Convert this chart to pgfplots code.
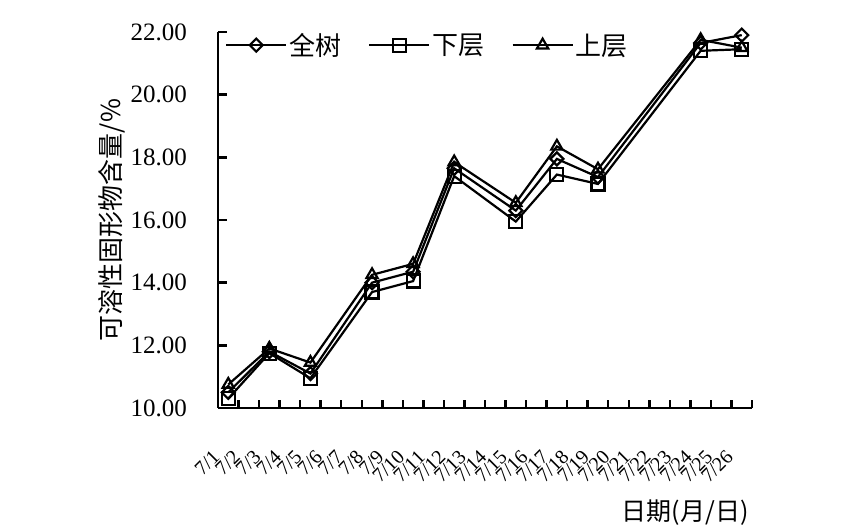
\documentclass[border=0pt]{standalone}
\usepackage{fontspec}
\setmainfont{Liberation Serif}
\newfontfamily\cjk{Noto Sans CJK SC}
\usepackage{pgfplots}
\pgfplotsset{compat=1.18}

\begin{document}
\begin{tikzpicture}
\useasboundingbox (0,0) rectangle (857bp,532bp);
\begin{axis}[
    at={(218bp,124bp)}, anchor=south west,
    scale only axis,
    width=534bp, height=376bp,
    xmin=0, xmax=26,
    ymin=10, ymax=22,
    clip=false,
    axis x line*=bottom, axis y line*=left,
    axis line style={line width=2.4bp,-},
    xtick={0.5,1.5,...,25.5},
    xticklabels={7/1,7/2,7/3,7/4,7/5,7/6,7/7,7/8,7/9,7/10,7/11,7/12,7/13,
                 7/14,7/15,7/16,7/17,7/18,7/19,7/20,7/21,7/22,7/23,7/24,7/25,7/26},
    major x tick style={draw=none},
    minor xtick={0,1,...,26},
    minor x tick style={line width=2.4bp,black},
    minor tick length=8bp,
    xticklabel style={font=\fontsize{20bp}{22bp}\selectfont, inner sep=0pt,
        xshift=-12bp, yshift=-46bp, rotate=45, anchor=east},
    ytick={10,12,...,22},
    y tick style={line width=2.4bp,black},
    major tick length=9bp,
    tick align=inside,
    yticklabel style={font=\fontsize{25bp}{28bp}\selectfont, inner sep=0pt,
        anchor=east, xshift=-31bp},
    /pgf/number format/assume math mode=true,
    yticklabel={\pgfmathprintnumber[fixed,fixed zerofill,precision=2]{\tick}},
    xlabel={\cjk 日期(月/日)},
    xlabel style={font=\fontsize{25bp}{28bp}\selectfont,
        at={(axis description cs:1,-0.279)}, anchor=east},
    ylabel={\cjk 可溶性固形物含量/\%},
    ylabel style={font=\fontsize{26bp}{28bp}\selectfont,
        at={(axis description cs:-0.1985,0.5)}, anchor=center},
    legend columns=3,
    legend style={draw=none, fill=none, inner sep=0pt,
        at={(axis description cs:0.013,0.965)}, anchor=west,
        font=\fontsize{26bp}{28bp}\cjk,
        /tikz/every even column/.append style={column sep=25bp}},
    legend image code/.code={%
        \draw[mark repeat=2,mark phase=2,#1]
            plot coordinates {(0bp,0bp)(30bp,0bp)(60bp,0bp)};},
    every axis plot/.append style={line width=2.2bp, black},
]
\addplot[mark=square, mark size=4.6bp, mark options={rotate=45}]
    coordinates {(0.5,10.5)(2.5,11.8)(4.5,11.1)(7.5,14.0)(9.5,14.35)(11.5,17.65)
                 (14.5,16.3)(16.5,17.95)(18.5,17.37)(23.5,21.65)(25.5,21.9)};
\addlegendentry{全树}
\addplot[mark=square, mark size=6.5bp]
    coordinates {(0.5,10.3)(2.5,11.75)(4.5,10.95)(7.5,13.7)(9.5,14.05)(11.5,17.4)
                 (14.5,15.95)(16.5,17.45)(18.5,17.15)(23.5,21.4)(25.5,21.45)};
\addlegendentry{下层}
\addplot[mark=triangle, mark size=6.5bp]
    coordinates {(0.5,10.75)(2.5,11.9)(4.5,11.45)(7.5,14.25)(9.5,14.6)(11.5,17.85)
                 (14.5,16.55)(16.5,18.35)(18.5,17.62)(23.5,21.75)(25.5,21.5)};
\addlegendentry{上层}
\end{axis}
\end{tikzpicture}
\end{document}
